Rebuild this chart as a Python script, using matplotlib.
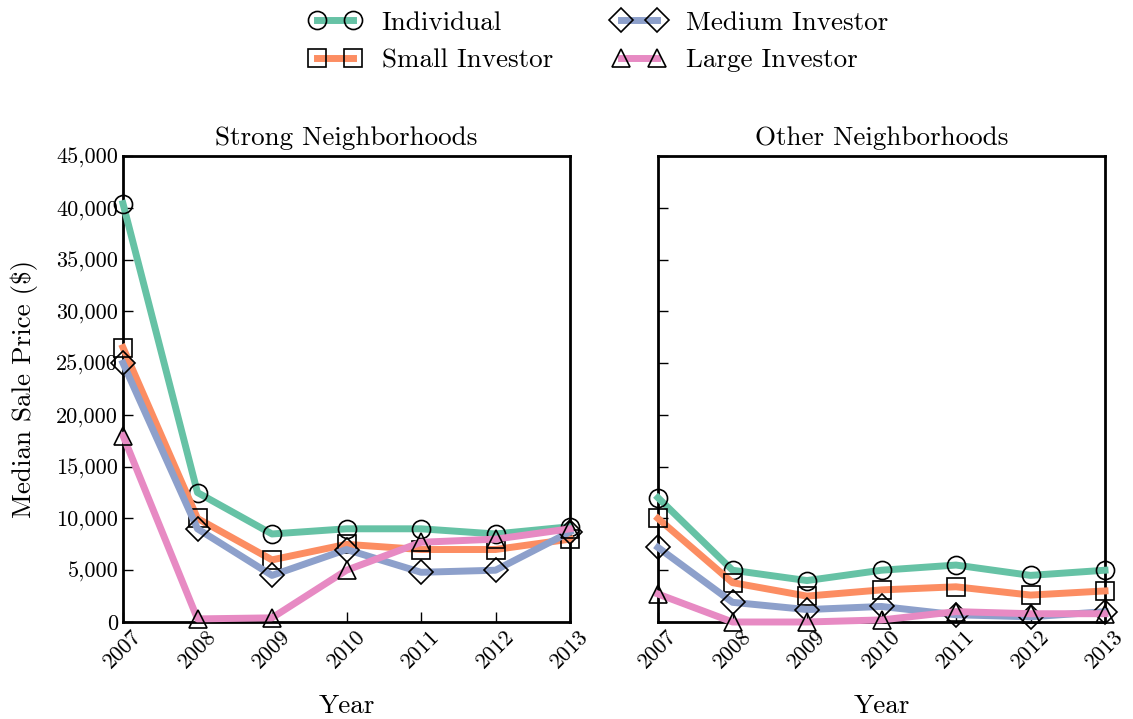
import matplotlib
matplotlib.use("Agg")
import matplotlib.pyplot as plt
from matplotlib.ticker import FuncFormatter

plt.rcParams['font.family'] = ['cmr10', 'DejaVu Serif']
plt.rcParams['mathtext.fontset'] = 'cm'
plt.rcParams['axes.unicode_minus'] = False

years = [2007, 2008, 2009, 2010, 2011, 2012, 2013]
series = ["Individual", "Small Investor", "Medium Investor", "Large Investor"]

strong_individual = [40400, 12500, 8500, 9000, 9000, 8500, 9200]
strong_small = [26500, 10000, 6000, 7500, 7000, 7000, 8000]
strong_medium = [25000, 9000, 4500, 7000, 4800, 5000, 8700]
strong_large = [18000, 300, 400, 5000, 7700, 8000, 9000]

other_individual = [12000, 5000, 4000, 5000, 5500, 4500, 5000]
other_small = [10000, 3800, 2500, 3100, 3400, 2600, 3000]
other_medium = [7200, 1900, 1200, 1500, 700, 500, 1000]
other_large = [2700, 0, 0, 200, 1000, 800, 800]

colors = ["#66c2a5", "#fc8d62", "#8da0cb", "#e78ac3"]
markers = ["o", "s", "D", "^"]
msizes = [13, 13, 12, 13]

fig = plt.figure(figsize=(11.33, 7.19), dpi=100)
ax1 = fig.add_axes([123/1133, 1-622/719, 447/1133, 466/719])
ax2 = fig.add_axes([658/1133, 1-622/719, 447/1133, 466/719], sharey=ax1)

panels = [
    (ax1, "Strong Neighborhoods", [strong_individual, strong_small, strong_medium, strong_large]),
    (ax2, "Other Neighborhoods", [other_individual, other_small, other_medium, other_large]),
]

handles = []
for ax, title, data in panels:
    for i, vals in enumerate(data):
        h, = ax.plot(years, vals, color=colors[i], lw=5, marker=markers[i],
                     ms=msizes[i], mfc="none", mec="black", mew=1.2,
                     label=series[i], clip_on=False, zorder=3)
        if ax is ax1:
            handles.append(h)
    ax.set_xlim(2007, 2013)
    ax.set_ylim(0, 45000)
    ax.set_xticks(years)
    ax.set_xticklabels([str(y) for y in years], rotation=45, fontsize=16)
    ax.set_title(title, fontsize=19.5, pad=8)
    ax.set_xlabel("Year", fontsize=19.5, labelpad=16)
    ax.tick_params(direction="in", length=7, width=1, top=False, right=False)
    for sp in ax.spines.values():
        sp.set_linewidth(2)

ax1.set_yticks(range(0, 45001, 5000))
ax1.yaxis.set_major_formatter(FuncFormatter(lambda v, p: f"{int(v):,}"))
ax1.tick_params(axis="y", labelsize=16)
ax2.tick_params(axis="y", labelleft=False)
ax1.set_ylabel("Median Sale Price (\\$)", fontsize=19.5, labelpad=13)

fig.legend(handles=handles, labels=series, loc="upper center",
           bbox_to_anchor=(0.528, 1.0), ncol=2, frameon=False, fontsize=19.5,
           numpoints=2, handlelength=1.95, columnspacing=2.2, handletextpad=0.75,
           borderaxespad=0.0, labelspacing=0.5)

fig.savefig("out.png", dpi=100)
